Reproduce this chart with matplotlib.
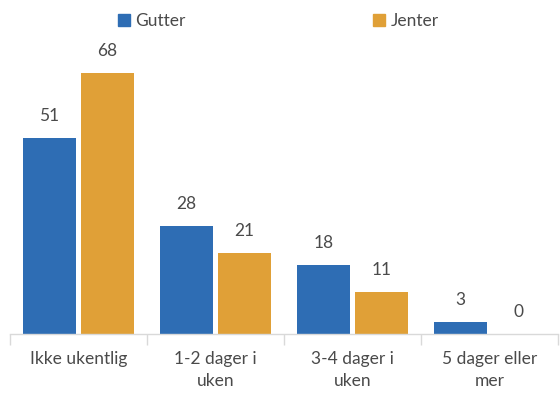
import numpy as np
import matplotlib.pyplot as plt
from matplotlib.patches import Patch

# andel som trener, gutter og jenter
categories = ["Ikke ukentlig", "1-2 dager i\nuken", "3-4 dager i\nuken", "5 dager eller\nmer"]
gutter = [51, 28, 18, 3]
jenter = [68, 21, 11, 0]

BLUE = "#2E6DB4"
ORANGE = "#E0A037"
TEXT = "#4A4A4A"

plt.rcParams['font.family'] = ['Lato', 'DejaVu Sans']

fig = plt.figure(figsize=(5.6, 3.96), dpi=100)
ax = fig.add_axes([10 / 560, 62 / 396, 548 / 560, 288 / 396])

x = np.arange(len(categories))
w = 0.387
gap = 0.036
b1 = ax.bar(x - (w + gap) / 2, gutter, w, color=BLUE)
b2 = ax.bar(x + (w + gap) / 2, jenter, w, color=ORANGE)

for bars, vals in ((b1, gutter), (b2, jenter)):
    for rect, v in zip(bars, vals):
        ax.annotate(str(v), (rect.get_x() + rect.get_width() / 2, v),
                    xytext=(0, 16), textcoords="offset points",
                    ha="center", va="center", fontsize=12.5, color=TEXT)

ax.set_xlim(-0.5, len(categories) - 0.5)
ax.set_ylim(0, 75)
ax.set_yticks([])
for s in ("top", "right", "left"):
    ax.spines[s].set_visible(False)
ax.spines["bottom"].set_color("#D9D9D9")
ax.spines["bottom"].set_linewidth(1)

# skillestreker mellom kategoriene
ax.set_xticks(np.arange(len(categories) + 1) - 0.5, minor=False)
ax.set_xticklabels([])
ax.tick_params(axis="x", length=8, width=1, color="#D9D9D9")
ax.set_xticks(x, minor=True)
ax.set_xticklabels(categories, minor=True, fontsize=12.5, color=TEXT, linespacing=1.5)
ax.tick_params(axis="x", which="minor", length=0, pad=12)

handles = [Patch(color=BLUE, label="Gutter"), Patch(color=ORANGE, label="Jenter")]
leg = fig.legend(handles=handles, loc="center", bbox_to_anchor=(0.497, 0.947), ncol=2,
                 frameon=False, handlelength=0.7, handleheight=0.7, handletextpad=0.3,
                 columnspacing=10.8, fontsize=12.5)
for t in leg.get_texts():
    t.set_color(TEXT)

fig.savefig("out.png", dpi=100, facecolor="white")
